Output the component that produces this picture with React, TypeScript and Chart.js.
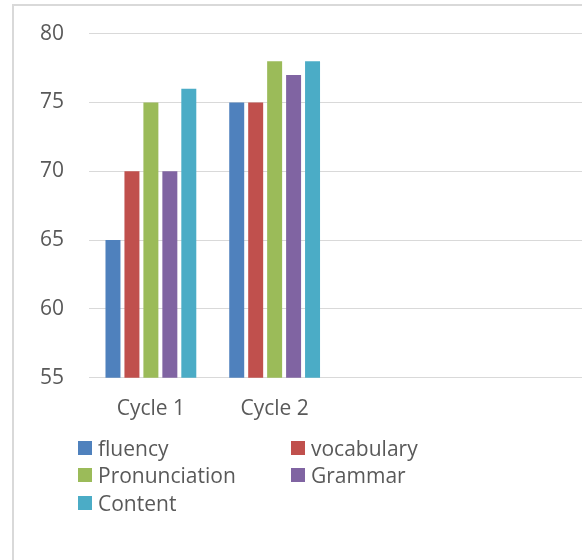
import React, { useEffect, useRef } from "react";
import { Chart, registerables } from "chart.js";

Chart.register(...registerables);

const categories = ["Cycle 1", "Cycle 2", "", ""];
const seriesNames = ["fluency", "vocabulary", "Pronunciation", "Grammar", "Content"];
const fluency = [65, 75, null, null];
const vocabulary = [70, 75, null, null];
const pronunciation = [75, 78, null, null];
const grammar = [70, 77, null, null];
const content = [76, 78, null, null];
const seriesColors = ["#4F81BD", "#C0504D", "#9BBB59", "#8064A2", "#4BACC6"];
const yTicks = [55, 60, 65, 70, 75, 80];

const FONT = "'Open Sans', 'Noto Sans', sans-serif";
const TEXT = "#595959";
const GRID = "#d9d9d9";

export default function App() {
  const ref = useRef<HTMLCanvasElement | null>(null);

  useEffect(() => {
    if (!ref.current) return;
    const values = [fluency, vocabulary, pronunciation, grammar, content];
    const chart = new Chart(ref.current, {
      type: "bar",
      data: {
        labels: categories,
        datasets: seriesNames.map((name, i) => ({
          label: name,
          data: values[i],
          backgroundColor: seriesColors[i],
          borderWidth: 0,
          categoryPercentage: 0.766,
          barPercentage: 0.79,
        })),
      },
      options: {
        animation: false,
        responsive: false,
        maintainAspectRatio: false,
        layout: { padding: { left: 15, right: 16, top: 29, bottom: 115 } },
        plugins: {
          legend: { display: false },
          tooltip: { enabled: false },
          title: { display: false },
        },
        scales: {
          x: {
            grid: { display: false, drawTicks: false },
            border: { display: true, color: GRID, width: 1 },
            ticks: {
              color: TEXT,
              font: { family: FONT, size: 21 },
              padding: 19,
              maxRotation: 0,
              autoSkip: false,
            },
          },
          y: {
            min: yTicks[0],
            max: yTicks[yTicks.length - 1],
            afterBuildTicks: (axis: any) => {
              axis.ticks = yTicks.map((v) => ({ value: v }));
            },
            grid: { color: GRID, drawTicks: false, lineWidth: 1 },
            border: { display: false },
            ticks: {
              color: TEXT,
              font: { family: FONT, size: 21 },
              padding: 25,
            },
          },
        },
      },
    });
    return () => chart.destroy();
  }, []);

  const legendPos = [
    { x: 78, y: 448 },
    { x: 291, y: 448 },
    { x: 78, y: 475 },
    { x: 291, y: 475 },
    { x: 78, y: 503 },
  ];

  return (
    <div
      style={{
        position: "fixed",
        left: 0,
        top: 0,
        width: 582,
        height: 560,
        overflow: "hidden",
        background: "#fff",
      }}
    >
      <div
        style={{
          position: "absolute",
          left: 12,
          top: 4,
          width: 700,
          height: 700,
          borderLeft: `2px solid ${GRID}`,
          borderTop: `2px solid ${GRID}`,
          boxSizing: "border-box",
        }}
      />
      <canvas
        ref={ref}
        width={600}
        height={560}
        style={{ position: "absolute", left: 0, top: -4, width: 600, height: 560 }}
      />
      {seriesNames.map((name, i) => (
        <div
          key={name}
          style={{
            position: "absolute",
            left: legendPos[i].x,
            top: legendPos[i].y - 14,
            height: 28,
            display: "flex",
            alignItems: "center",
            fontFamily: FONT,
            fontSize: 21,
            color: TEXT,
            whiteSpace: "nowrap",
          }}
        >
          <span
            style={{
              display: "inline-block",
              width: 14,
              height: 14,
              background: seriesColors[i],
              marginRight: 6,
            }}
          />
          <span>{name}</span>
        </div>
      ))}
    </div>
  );
}
